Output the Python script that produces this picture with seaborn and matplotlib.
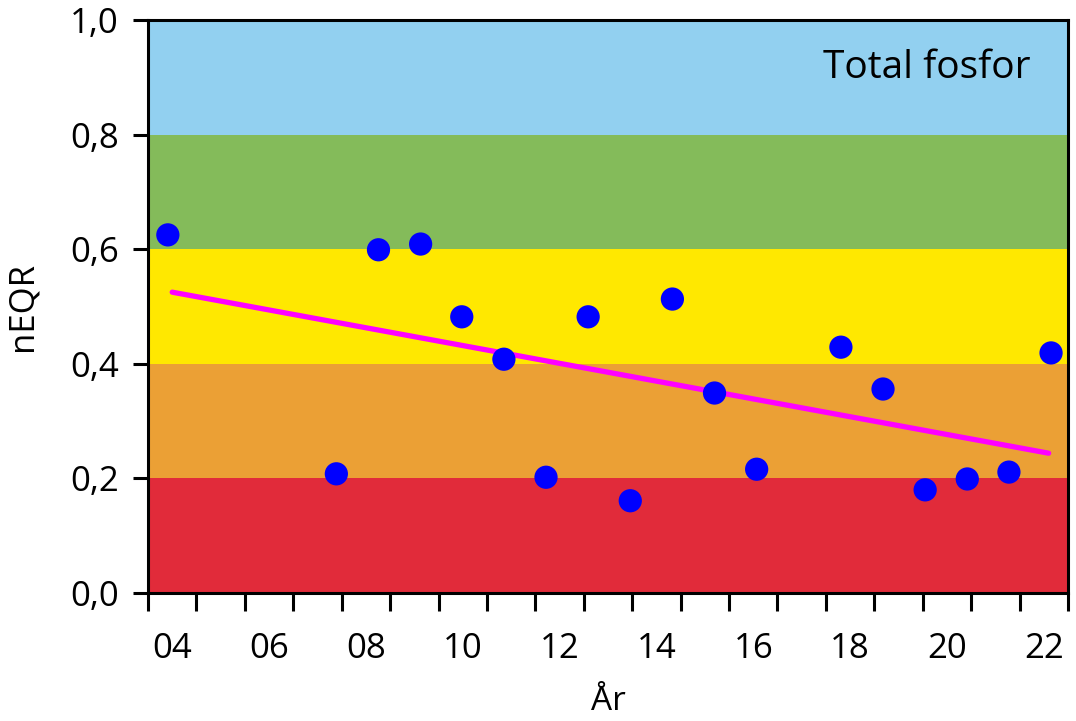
import matplotlib
matplotlib.use("Agg")
import matplotlib.pyplot as plt
import seaborn as sns
import pandas as pd

# Data (x in decimal years, category centre of "04" = 2004)
years = [2003.91, 2007.39, 2008.26, 2009.13, 2009.98, 2010.85, 2011.72, 2012.59,
         2013.46, 2014.33, 2015.20, 2016.07, 2017.81, 2018.68, 2019.55, 2020.42,
         2021.28, 2022.15]
neqr = [0.625, 0.208, 0.599, 0.609, 0.482, 0.408, 0.202, 0.482,
        0.161, 0.513, 0.349, 0.216, 0.429, 0.356, 0.180, 0.199,
        0.211, 0.419]
trend_x = [2004.0, 2022.1]
trend_y = [0.525, 0.244]
tick_labels = ["04", "06", "08", "10", "12", "14", "16", "18", "20", "22"]
tick_years = [2004, 2006, 2008, 2010, 2012, 2014, 2016, 2018, 2020, 2022]
band_edges = [0.0, 0.2, 0.4, 0.6, 0.8, 1.0]
band_colors = ["#E12B3A", "#EBA035", "#FFE800", "#84BB5A", "#92D0F0"]
y_ticks = [0.0, 0.2, 0.4, 0.6, 0.8, 1.0]

sns.set_style("white")
plt.rcParams['font.family'] = ['Open Sans', 'DejaVu Sans']
plt.rcParams['text.color'] = 'black'
plt.rcParams['axes.labelcolor'] = 'black'
plt.rcParams['xtick.color'] = 'black'
plt.rcParams['ytick.color'] = 'black'

fig = plt.figure(figsize=(10.76, 7.21), dpi=100)
ax = fig.add_axes([148/1076, 1-593/721, (1068-148)/1076, (593-20)/721])

for lo, hi, c in zip(band_edges[:-1], band_edges[1:], band_colors):
    ax.axhspan(lo, hi, color=c, zorder=0, lw=0)

df = pd.DataFrame({"year": years, "nEQR": neqr})
tdf = pd.DataFrame({"x": trend_x, "y": trend_y})
sns.lineplot(data=tdf, x="x", y="y", color="#FF00FF", lw=3.8, ax=ax, zorder=2)
sns.scatterplot(data=df, x="year", y="nEQR", color="#0000FF", s=280,
                edgecolor="none", ax=ax, zorder=3)

ax.set_xlim(2003.5, 2022.5)
ax.set_ylim(0, 1.0)

# minor ticks at year boundaries, labels at centres
ax.set_xticks([2003.5 + i for i in range(20)], minor=True)
ax.set_xticks(tick_years)
ax.set_xticklabels(tick_labels)
ax.tick_params(axis="x", which="major", length=0, labelsize=25, pad=28,
               labelcolor="black")
ax.tick_params(axis="x", which="minor", length=13, width=2.2, direction="out",
               bottom=True, color="black")
ax.set_yticks(y_ticks)
ax.set_yticklabels([f"{v:.1f}".replace(".", ",") for v in y_ticks])
ax.tick_params(axis="y", which="major", length=11, width=2.2, labelsize=25,
               pad=10, left=True, direction="out", color="black",
               labelcolor="black")

for s in ax.spines.values():
    s.set_visible(True)
    s.set_color("black")
    s.set_linewidth(2.2)

ax.set_xlabel("År", fontsize=24, labelpad=14, color="black")
ax.set_ylabel("nEQR", fontsize=25, labelpad=22, color="black")
ax.text(0.9587, 0.899, "Total fosfor", transform=ax.transAxes, ha="right",
        va="baseline", fontsize=28, color="black")

fig.savefig("out.png", dpi=100)
